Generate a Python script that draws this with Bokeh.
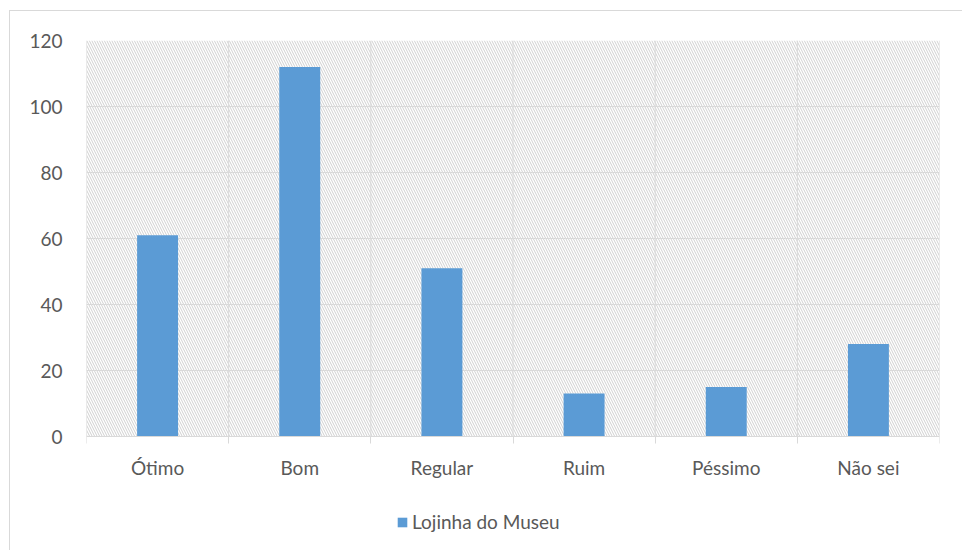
from bokeh.plotting import figure
from bokeh.models import FixedTicker, BoxAnnotation, Legend, LegendItem
from bokeh.embed import file_html
from bokeh.resources import INLINE

categories = ["Ótimo", "Bom", "Regular", "Ruim", "Péssimo", "Não sei"]
values = [61, 112, 51, 13, 15, 28]
y_ticks = [0, 20, 40, 60, 80, 100, 120]
series_name = "Lojinha do Museu"

n = len(categories)
centers = [i + 0.5 for i in range(n)]
boundaries = list(range(n + 1))

FONT = "Lato"
TXT = "#595959"
GRID = "#d9d9d9"
BAR = "#5B9BD5"

Y_MAX = 120
# frame extends below the value axis so the legend can sit inside it
y_min = -Y_MAX * 115 / 396

p = figure(width=953, height=540, x_range=(0, n), y_range=(y_min, Y_MAX),
           output_backend="svg", toolbar_location=None,
           min_border_left=76, min_border_right=24, min_border_top=29, min_border_bottom=0)
p.styles = {"margin-left": "9px", "margin-top": "10px",
            "border-left": "1px solid #d9d9d9", "border-top": "1px solid #d9d9d9"}
p.outline_line_color = None
p.background_fill_color = "white"
p.border_fill_color = "white"

hatch = BoxAnnotation(bottom=0, top=Y_MAX, fill_alpha=0, line_alpha=0,
                      hatch_pattern="\\", hatch_color="#d0d0d0",
                      hatch_scale=5, hatch_weight=1, level="image")
p.add_layout(hatch)

# vertical category separators (limited to the value area)
p.segment(x0=boundaries, y0=[0] * len(boundaries), x1=boundaries, y1=[Y_MAX] * len(boundaries),
          line_color=GRID, line_width=1, level="underlay")

r = p.vbar(x=centers, top=values, width=0.288, fill_color=BAR, line_color=None)

# grids
p.xgrid.visible = False
p.ygrid.ticker = FixedTicker(ticks=y_ticks)
p.ygrid.grid_line_color = GRID
p.ygrid.grid_line_width = 1

# y axis
ya = p.yaxis[0]
ya.ticker = FixedTicker(ticks=y_ticks)
ya.axis_line_color = None
ya.major_tick_line_color = None
ya.minor_tick_line_color = None
ya.major_tick_out = 0
ya.major_label_standoff = 24
ya.major_label_text_font = FONT
ya.major_label_text_font_size = "19px"
ya.major_label_text_color = TXT

# x axis, drawn at value 0
xa = p.xaxis[0]
xa.fixed_location = 0
xa.ticker = FixedTicker(ticks=centers, minor_ticks=boundaries)
xa.major_label_overrides = {c: lab for c, lab in zip(centers, categories)}
xa.axis_line_color = GRID
xa.major_tick_line_color = None
xa.major_tick_out = 0
xa.major_tick_in = 0
xa.minor_tick_line_color = GRID
xa.minor_tick_out = 7
xa.minor_tick_in = 0
xa.major_label_standoff = 12
xa.major_label_text_font = FONT
xa.major_label_text_font_size = "19px"
xa.major_label_text_color = TXT

legend = Legend(items=[LegendItem(label=series_name, renderers=[r])],
                location=(310, 18), orientation="horizontal",
                glyph_width=12, glyph_height=12, label_standoff=4,
                padding=0, margin=0, spacing=0,
                border_line_color=None, background_fill_alpha=0,
                label_text_font=FONT, label_text_font_size="19px",
                label_text_color=TXT)
p.add_layout(legend)

open("out.html", "w").write(file_html(p, INLINE))
